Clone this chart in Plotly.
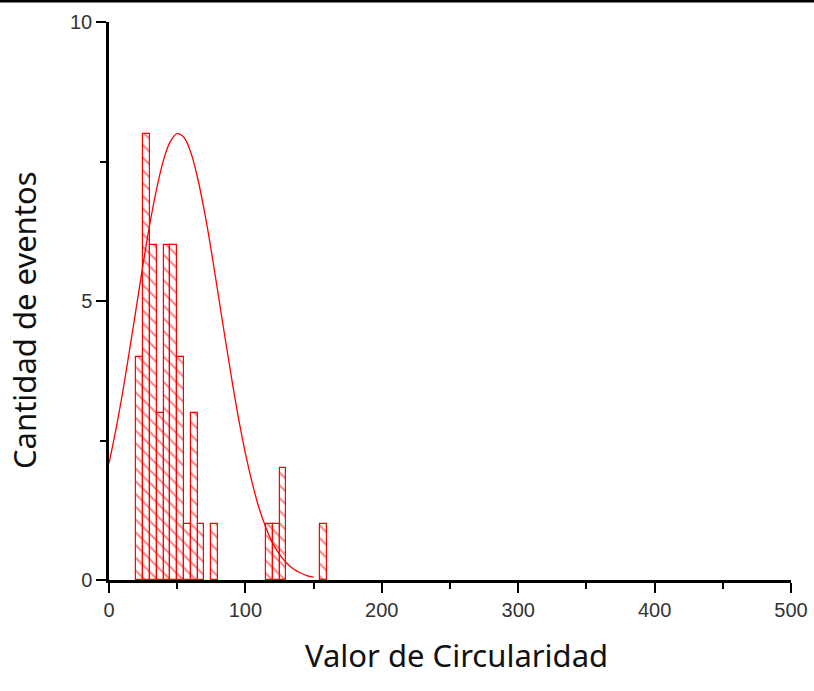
import plotly.graph_objects as go

# Histogram bins (bin centers, width 5) and counts
bin_centers = [22.5, 27.5, 32.5, 37.5, 42.5, 47.5, 52.5, 57.5, 62.5, 67.5, 77.5, 117.5, 122.5, 127.5, 157.5]
counts = [4, 8, 6, 3, 6, 6, 4, 1, 3, 1, 1, 1, 1, 2, 1]
bin_width = 5

# Fitted normal curve
fit_x = [0, 5, 10, 15, 20, 25, 30, 35, 40, 45, 50, 55, 60, 65, 70, 75, 80, 85, 90, 95,
         100, 105, 110, 115, 120, 125, 130, 135, 140, 145, 150]
fit_y = [2.09, 2.69, 3.36, 4.11, 4.88, 5.66, 6.39, 7.02, 7.53, 7.86, 8.00, 7.93, 7.66, 7.20, 6.60, 5.90,
         5.13, 4.35, 3.60, 2.89, 2.27, 1.74, 1.29, 0.94, 0.66, 0.46, 0.31, 0.20, 0.13, 0.08, 0.05]

x_ticks = [0, 100, 200, 300, 400, 500]
y_ticks = [0, 5, 10]

x_title = "Valor de Circularidad"
y_title = "Cantidad de eventos"

RED = "#ff0000"

fig = go.Figure()
fig.add_trace(go.Bar(
    x=bin_centers, y=counts, width=[bin_width] * len(counts),
    marker=dict(color="white", line=dict(color=RED, width=1.2),
                pattern=dict(shape="\\", fgcolor=RED, bgcolor="white", size=9, solidity=0.22)),
    showlegend=False,
))
fig.add_trace(go.Scatter(
    x=fit_x, y=fit_y, mode="lines", line=dict(color=RED, width=1.3, shape="spline"),
    showlegend=False,
))

tickfont = dict(family="Liberation Sans, Arial, sans-serif", size=20, color="#333333")
fig.update_xaxes(
    range=[0, 500], tickvals=x_ticks, ticktext=[str(v) for v in x_ticks], automargin=False,
    showline=True, linecolor="black", linewidth=2.5, mirror=False,
    ticks="outside", ticklen=10, tickwidth=2, tickcolor="black",
    minor=dict(dtick=50, tick0=0, ticks="outside", ticklen=6, tickwidth=2, tickcolor="black"),
    showgrid=False, zeroline=False, tickfont=tickfont,
)
fig.update_yaxes(
    range=[0, 10], tickvals=y_ticks, ticktext=[str(v) for v in y_ticks], automargin=False,
    showline=True, linecolor="black", linewidth=2.5, mirror=False,
    ticks="outside", ticklen=10, tickwidth=2, tickcolor="black",
    minor=dict(dtick=2.5, tick0=0, ticks="outside", ticklen=6, tickwidth=2, tickcolor="black"),
    showgrid=False, zeroline=False, tickfont=tickfont,
)

W, H = 814, 691
L, R, T, B = 109, 23, 22, 111
pw, ph = W - L - R, H - T - B

titlefont = dict(family="Noto Sans, Open Sans, sans-serif", size=31, color="#111111")
fig.update_layout(
    width=W, height=H, margin=dict(l=L, r=R, t=T, b=B),
    plot_bgcolor="white", paper_bgcolor="white", bargap=0,
    annotations=[
        dict(text=x_title, xref="paper", yref="paper", x=(456 - L) / pw, y=(580 - 655) / ph,
             xanchor="center", yanchor="middle", showarrow=False, font=titlefont),
        dict(text=y_title, xref="paper", yref="paper", x=(24 - L) / pw, y=(580 - 320) / ph,
             xanchor="center", yanchor="middle", showarrow=False, font=titlefont, textangle=-90),
    ],
    shapes=[
        dict(type="line", xref="paper", yref="paper", x0=-L / pw, x1=1 + R / pw,
             y0=1 + (T - 1) / ph, y1=1 + (T - 1) / ph, line=dict(color="black", width=3)),
    ],
)

fig.write_html("out.html")
